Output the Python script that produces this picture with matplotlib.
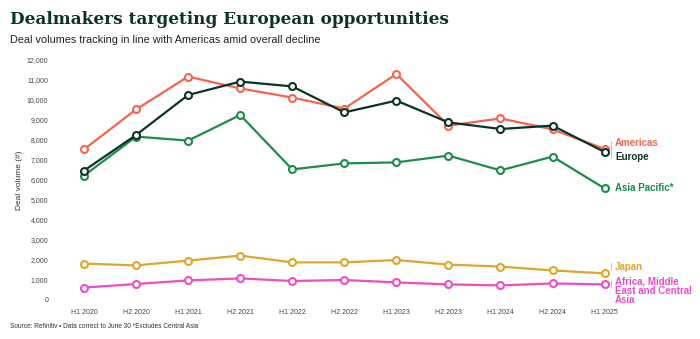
import matplotlib
matplotlib.use("Agg")
import matplotlib.pyplot as plt

periods = ["H1 2020", "H2 2020", "H1 2021", "H2 2021", "H1 2022", "H2 2022",
           "H1 2023", "H2 2023", "H1 2024", "H2 2024", "H1 2025"]

americas = [7530, 9530, 11170, 10580, 10120, 9570, 11300, 8720, 9080, 8530, 7550]
europe = [6470, 8250, 10250, 10920, 10680, 9380, 9970, 8880, 8550, 8720, 7400]
asia_pacific = [6220, 8170, 7970, 9250, 6530, 6830, 6880, 7220, 6480, 7170, 5580]
japan = [1820, 1730, 1970, 2220, 1880, 1880, 2000, 1770, 1670, 1480, 1330]
amea = [620, 800, 980, 1080, 950, 1000, 880, 780, 730, 830, 780]

yticks = list(range(0, 12001, 1000))

# colours
c_am = "#f2654f"
c_eu = "#0c3326"
c_ap = "#1d8c4a"
c_jp = "#e0a62c"
c_af = "#f04cc4"
dark = "#0c3326"

narrow = ["Liberation Sans Narrow", "Liberation Sans", "DejaVu Sans"]
sans = ["Liberation Sans", "DejaVu Sans"]

fig = plt.figure(figsize=(7, 3.39), dpi=100)
ax = fig.add_axes([58 / 700, (339 - 306) / 339, (615 - 58) / 700, 252 / 339])

x = list(range(len(periods)))
series = [(japan, c_jp), (amea, c_af), (asia_pacific, c_ap), (americas, c_am), (europe, c_eu)]
for vals, col in series:
    ax.plot(x, vals, color=col, lw=1.6, marker="o", ms=5, mfc="white",
            mec=col, mew=1.5, zorder=3)

ax.set_xlim(-0.5, 10.2)
ax.set_ylim(-300, 12300)
ax.set_yticks(yticks)
ax.set_yticklabels([f"{v:,}" for v in yticks], family=sans, fontsize=5)
ax.set_xticks(x)
ax.set_xticklabels(periods, family=sans, fontsize=5)
ax.tick_params(axis="both", length=0, labelcolor="#444444")
ax.tick_params(axis="y", pad=7)
ax.tick_params(axis="x", pad=2)
for s in ax.spines.values():
    s.set_visible(False)
ax.set_ylabel("Deal volume (#)", fontsize=6, family=sans, color="#333333", labelpad=3)

# end labels
lab = dict(fontsize=7, fontweight="bold", family=sans)
fig.text(615 / 700, 1 - 143 / 339, "Americas", color=c_am, va="center", **lab)
fig.text(615 / 700, 1 - 157 / 339, "Europe", color=c_eu, va="center", **lab)
fig.text(615 / 700, 1 - 188 / 339, "Asia Pacific*", color=c_ap, va="center", **lab)
fig.text(615 / 700, 1 - 267 / 339, "Japan", color=c_jp, va="center", **lab)
fig.text(615 / 700, 1 - 276 / 339, "Africa, Middle\nEast and Central\nAsia",
         color=c_af, va="top", linespacing=0.95, **lab)

# small connector ticks
for y0, y1 in [(141, 158), (263, 270), (281, 287)]:
    fig.add_artist(plt.Line2D([611 / 700, 611 / 700], [1 - y0 / 339, 1 - y1 / 339],
                              color="#bbbbbb", lw=0.6))

fig.text(10 / 700, 1 - 20 / 339, "Dealmakers targeting European opportunities",
         fontsize=12.2, fontweight="bold", family="DejaVu Serif", color=dark, va="center")
fig.text(10 / 700, 1 - 40 / 339, "Deal volumes tracking in line with Americas amid overall decline",
         fontsize=7.8, family=narrow, color="#222222", va="center")
fig.text(10 / 700, 1 - 326 / 339,
         "Source: Refinitiv \u2022 Data correct to June 30 *Excludes Central Asia",
         fontsize=4.7, family=narrow, color="#333333", va="center")

fig.savefig("out.png", dpi=100, facecolor="white")
